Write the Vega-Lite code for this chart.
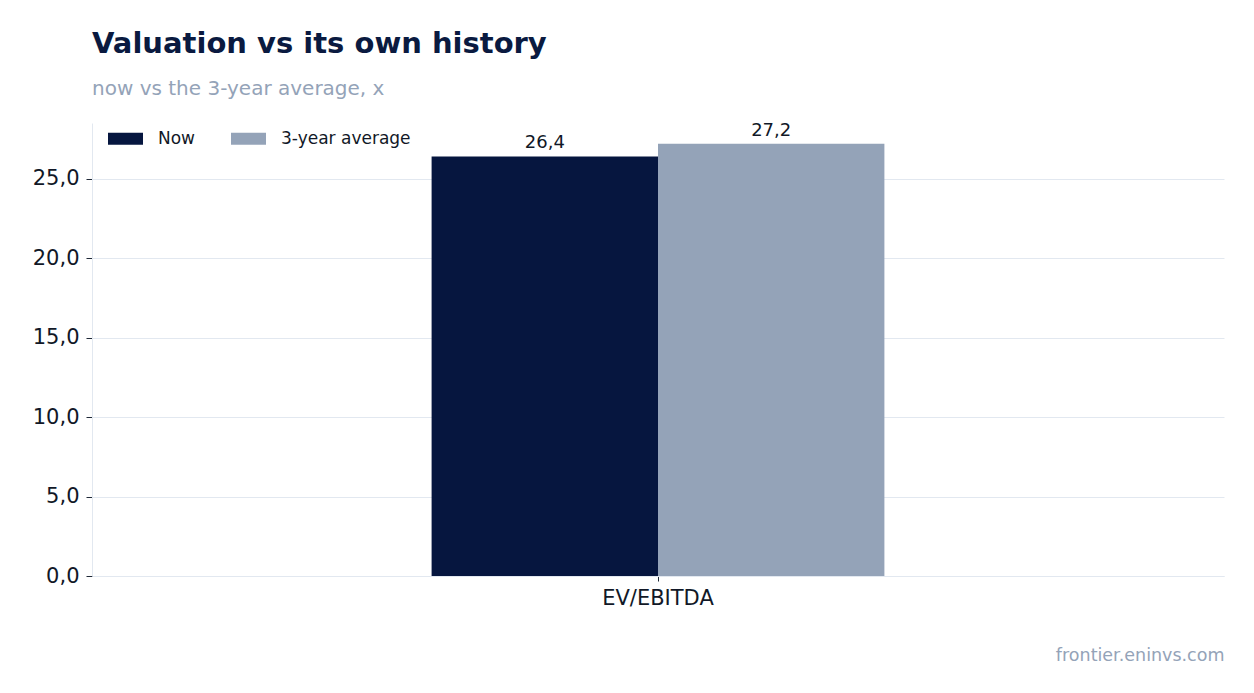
{
  "$schema": "https://vega.github.io/schema/vega-lite/v6.json",
  "width": 1132,
  "height": 453,
  "autosize": {"type": "none"},
  "padding": {"left": 92, "top": 123, "right": 30, "bottom": 117},
  "background": "white",
  "title": {
    "text": "Valuation vs its own history",
    "subtitle": "now vs the 3-year average, x",
    "anchor": "start",
    "frame": "group",
    "font": "DejaVu Sans",
    "fontSize": 29,
    "fontWeight": "bold",
    "color": "#0a1a40",
    "subtitleFont": "DejaVu Sans",
    "subtitleFontSize": 20,
    "subtitleColor": "#94a3b8",
    "subtitlePadding": 20,
    "offset": 22
  },
  "data": {
    "values": [
      {"metric": "EV/EBITDA", "series": "Now", "value": 26.4},
      {"metric": "EV/EBITDA", "series": "3-year average", "value": 27.2}
    ]
  },
  "config": {
    "locale": {
      "number": {"decimal": ",", "thousands": ".", "grouping": [3], "currency": ["", ""]}
    },
    "view": {"stroke": null},
    "font": "DejaVu Sans"
  },
  "encoding": {
    "x": {
      "field": "metric",
      "type": "nominal",
      "scale": {"paddingInner": 0, "paddingOuter": 0.75},
      "axis": {
        "title": "frontier.eninvs.com",
        "titleAnchor": "end",
        "titleFontWeight": "normal",
        "titleFontSize": 17.5,
        "titleColor": "#94a3b8",
        "titlePadding": 38,
        "labelAngle": 0,
        "labelFontSize": 21,
        "labelColor": "#111827",
        "labelPadding": 6,
        "domainColor": "#e2e8f0",
        "tickColor": "#1f2937",
        "tickSize": 5
      }
    },
    "xOffset": {"field": "series", "sort": ["Now", "3-year average"]},
    "y": {
      "field": "value",
      "type": "quantitative",
      "scale": {"domain": [0, 28.5], "nice": false},
      "axis": {
        "title": null,
        "values": [0, 5, 10, 15, 20, 25],
        "format": ".1f",
        "labelFontSize": 21,
        "labelColor": "#111827",
        "labelPadding": 7,
        "domainColor": "#e2e8f0",
        "gridColor": "#e2e8f0",
        "tickColor": "#1f2937",
        "tickSize": 6
      }
    }
  },
  "layer": [
    {
      "mark": {"type": "bar"},
      "encoding": {
        "color": {
          "field": "series",
          "type": "nominal",
          "sort": ["Now", "3-year average"],
          "scale": {"domain": ["Now", "3-year average"], "range": ["#06163f", "#94a3b8"]},
          "legend": {
            "title": null,
            "orient": "none",
            "legendX": 16,
            "legendY": -2,
            "direction": "horizontal",
            "labelFontSize": 17,
            "labelColor": "#111827",
            "symbolType": "M-1,-0.34H1V0.34H-1Z",
            "symbolSize": 1225,
            "symbolStrokeWidth": 0,
            "columnPadding": 35,
            "labelOffset": 15
          }
        }
      }
    },
    {
      "mark": {"type": "text", "baseline": "alphabetic", "dy": -8, "fontSize": 18, "color": "#111827"},
      "encoding": {
        "text": {"field": "value", "type": "quantitative", "format": ".1f"}
      }
    }
  ]
}
